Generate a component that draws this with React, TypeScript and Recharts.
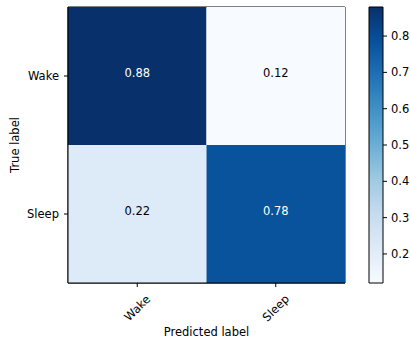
import React from "react";
import {
  BarChart,
  Bar,
  XAxis,
  YAxis,
  Cell,
  LabelList,
  ReferenceArea,
} from "recharts";

// confusion matrix (normalized), rows = true label, columns = predicted label
const trueLabels = ["Wake", "Sleep"];
const predLabels = ["Wake", "Sleep"];
const wakeRow = [0.88, 0.12];
const sleepRow = [0.22, 0.78];
const colorbarTicks = [0.2, 0.3, 0.4, 0.5, 0.6, 0.7, 0.8];

const matrix = [wakeRow, sleepRow];
const allValues = matrix.flat();
const vmin = Math.min(...allValues);
const vmax = Math.max(...allValues);
const thresh = vmax / 2;

// matplotlib "Blues"
const bluesStops = [
  "#f7fbff",
  "#deebf7",
  "#c6dbef",
  "#9ecae1",
  "#6baed6",
  "#4292c6",
  "#2171b5",
  "#08519c",
  "#08306b",
];

const hexToRgb = (h: string) => [
  parseInt(h.slice(1, 3), 16),
  parseInt(h.slice(3, 5), 16),
  parseInt(h.slice(5, 7), 16),
];

const blues = (t: number) => {
  const c = Math.max(0, Math.min(1, t)) * (bluesStops.length - 1);
  const i = Math.min(Math.floor(c), bluesStops.length - 2);
  const f = c - i;
  const a = hexToRgb(bluesStops[i]);
  const b = hexToRgb(bluesStops[i + 1]);
  const rgb = a.map((v, k) => Math.round(v + (b[k] - v) * f));
  return `rgb(${rgb.join(",")})`;
};

const norm = (v: number) => (v - vmin) / (vmax - vmin);

// each predicted column is a stacked segment of width 1
const rows = trueLabels.map((name, r) => ({
  name,
  c0: 1,
  c1: 1,
  v0: matrix[r][0],
  v1: matrix[r][1],
}));

const colorbarData = [{ name: "cb", range: [vmin, vmax] }];

const FONT = "'DejaVu Sans', 'Liberation Sans', sans-serif";
const FS = 11.5;

const renderCellLabel = (props: any) => {
  const { x, y, width, height, value } = props;
  return (
    <text
      x={x + width / 2}
      y={y + height / 2 + 1}
      textAnchor="middle"
      fontSize={FS}
      fill={value > thresh ? "#fff" : "#000"}
    >
      {Number(value).toFixed(2)}
    </text>
  );
};

const XTick = (props: any) => {
  const { x, y, payload } = props;
  const cy = y + 19;
  return (
    <text
      x={x}
      y={cy}
      transform={`rotate(-45 ${x} ${cy})`}
      textAnchor="middle"
      dominantBaseline="central"
      fontSize={FS}
      fill="#000"
    >
      {predLabels[Math.floor(payload.value)]}
    </text>
  );
};

export default function App() {
  return (
    <div
      style={{
        position: "absolute",
        left: 0,
        top: 0,
        width: 410,
        height: 341,
        background: "#fff",
        fontFamily: FONT,
      }}
    >
      <div style={{ position: "absolute", left: 0, top: 0 }}>
        <BarChart
          width={410}
          height={341}
          data={rows}
          layout="vertical"
          margin={{ top: 7, right: 65, bottom: 4, left: 12 }}
          barCategoryGap={0}
        >
          <XAxis
            type="number"
            domain={[0, 2]}
            ticks={[0.5, 1.5]}
            height={54}
            tickSize={4}
            stroke="#000"
            tick={<XTick />}
            label={{
              value: "Predicted label",
              position: "insideBottom",
              offset: 1,
              fontSize: FS,
              fill: "#000",
            }}
          />
          <YAxis
            type="category"
            dataKey="name"
            width={56}
            tickSize={4}
            tickMargin={5}
            stroke="#000"
            tick={{ fill: "#000", fontSize: FS }}
            label={{
              value: "True label",
              angle: -90,
              position: "insideLeft",
              offset: 3,
              fontSize: FS,
              fill: "#000",
              style: { textAnchor: "middle" },
            }}
          />
          <Bar dataKey="c0" stackId="m" isAnimationActive={false}>
            {rows.map((r) => (
              <Cell key={r.name} fill={blues(norm(r.v0))} />
            ))}
            <LabelList dataKey="v0" content={renderCellLabel} />
          </Bar>
          <Bar dataKey="c1" stackId="m" isAnimationActive={false}>
            {rows.map((r) => (
              <Cell key={r.name} fill={blues(norm(r.v1))} />
            ))}
            <LabelList dataKey="v1" content={renderCellLabel} />
          </Bar>
          <ReferenceArea
            x1={0}
            x2={2}
            fill="none"
            stroke="#000"
            strokeWidth={1}
          />
        </BarChart>
      </div>

      <div style={{ position: "absolute", left: 0, top: 0 }}>
        <BarChart
          width={410}
          height={341}
          data={colorbarData}
          margin={{ top: 7, right: 0, bottom: 58, left: 369 }}
          barCategoryGap={0}
        >
          <defs>
            <linearGradient id="cbBlues" x1="0" y1="1" x2="0" y2="0">
              {bluesStops.map((c, i) => (
                <stop
                  key={c}
                  offset={`${(i / (bluesStops.length - 1)) * 100}%`}
                  stopColor={c}
                />
              ))}
            </linearGradient>
          </defs>
          <XAxis type="category" dataKey="name" hide />
          <YAxis
            type="number"
            orientation="right"
            domain={[vmin, vmax]}
            ticks={colorbarTicks}
            width={27}
            tickSize={4}
            tickMargin={4}
            axisLine={false}
            stroke="#000"
            tick={{ fill: "#000", fontSize: FS, textAnchor: "start" }}
          />
          <Bar
            dataKey="range"
            fill="url(#cbBlues)"
            stroke="#000"
            strokeWidth={1}
            isAnimationActive={false}
          />
        </BarChart>
      </div>
    </div>
  );
}
